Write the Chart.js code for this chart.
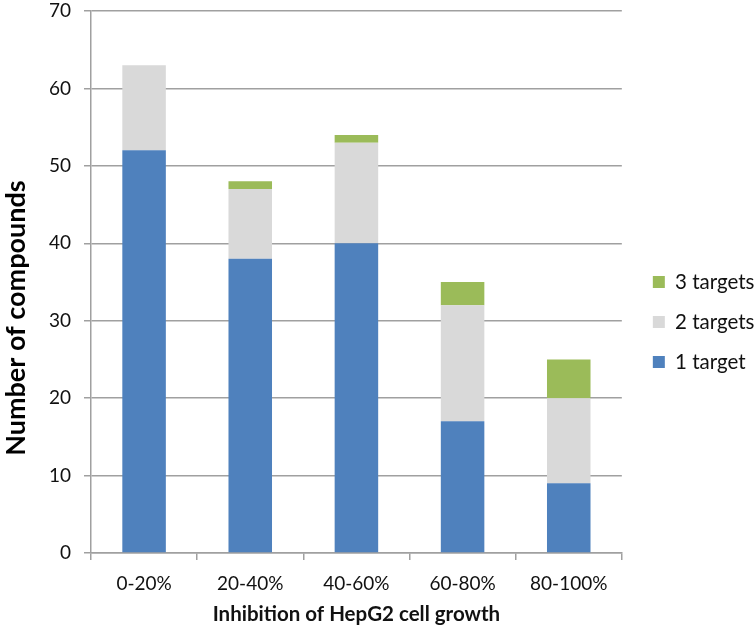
<!DOCTYPE html>
<html>
<head>
<meta charset="utf-8">
<script src="https://cdn.jsdelivr.net/npm/chart.js@4/dist/chart.umd.min.js"></script>
<style>
  html, body { margin: 0; padding: 0; background: #fff; }
  #wrap { width: 756px; height: 627px; }
</style>
</head>
<body>
<div id="wrap"><canvas id="chart"></canvas></div>
<script>
// categories and series
const categories = ['0-20%', '20-40%', '40-60%', '60-80%', '80-100%'];
const oneTarget = [52, 38, 40, 17, 9];
const twoTargets = [11, 9, 13, 15, 11];
const threeTargets = [0, 1, 1, 3, 5];
const yTicks = [0, 10, 20, 30, 40, 50, 60, 70];

const gridColor = '#a0a0a0';
const fontFamily = 'Lato';

// y title sits a little below the middle of the axis in the original
const yTitle = 'Number of compounds' + '\u00a0'.repeat(11);

const ctx = document.getElementById('chart');

const config = {
    type: 'bar',
    data: {
        labels: categories,
        datasets: [
            { label: '1 target', data: oneTarget, backgroundColor: '#4f81bd' },
            { label: '2 targets', data: twoTargets, backgroundColor: '#d9d9d9' },
            { label: '3 targets', data: threeTargets, backgroundColor: '#9bbb59' }
        ]
    },
    options: {
        responsive: true,
        maintainAspectRatio: false,
        animation: false,
        devicePixelRatio: 1,
        categoryPercentage: 1,
        barPercentage: 0.41,
        layout: { padding: { top: 0, left: 0, right: -4, bottom: 0 } },
        plugins: {
            tooltip: { enabled: false },
            legend: {
                position: 'right',
                reverse: true,
                // blank title only pushes the items down a bit
                title: { display: true, text: ' ', padding: 0, font: { family: fontFamily, size: 14 } },
                labels: {
                    boxWidth: 12,
                    boxHeight: 12,
                    padding: 19.5,
                    color: '#111',
                    font: { family: fontFamily, size: 20.5 }
                }
            }
        },
        scales: {
            x: {
                stacked: true,
                grid: { display: true, drawOnChartArea: false, drawTicks: true, tickLength: 7, color: gridColor, lineWidth: 1.5 },
                border: { display: true, color: gridColor, width: 1.5 },
                ticks: { color: '#111', padding: 12, font: { family: fontFamily, size: 19 } },
                title: { display: true, text: 'Inhibition of HepG2 cell growth', color: '#111', padding: 0, font: { family: fontFamily, size: 20.5, weight: 'bold' } },
                afterFit: (s) => { s.height = 74; }
            },
            y: {
                stacked: true,
                min: 0,
                max: 70,
                afterBuildTicks: (s) => { s.ticks = yTicks.map(v => ({ value: v })); },
                grid: { color: gridColor, lineWidth: 1.5, tickLength: 7 },
                border: { display: true, color: gridColor, width: 1.5 },
                ticks: { color: '#111', padding: 13, font: { family: fontFamily, size: 19 } },
                title: { display: true, text: yTitle, color: '#000', padding: 0, font: { family: fontFamily, size: 27, weight: 'bold' } },
                afterFit: (s) => {
                    s.width = 91;
                    s.paddingTop = 11;
                    s.paddingBottom = 0;
                }
            },
            // empty right axis, only keeps the gap between plot and legend
            gap: {
                type: 'linear',
                position: 'right',
                display: true,
                grid: { drawOnChartArea: false, drawTicks: false },
                border: { display: false },
                ticks: { display: false },
                afterFit: (s) => { s.width = 11.5; }
            }
        }
    }
};

const myChart = new Chart(ctx, config);
</script>
</body>
</html>
